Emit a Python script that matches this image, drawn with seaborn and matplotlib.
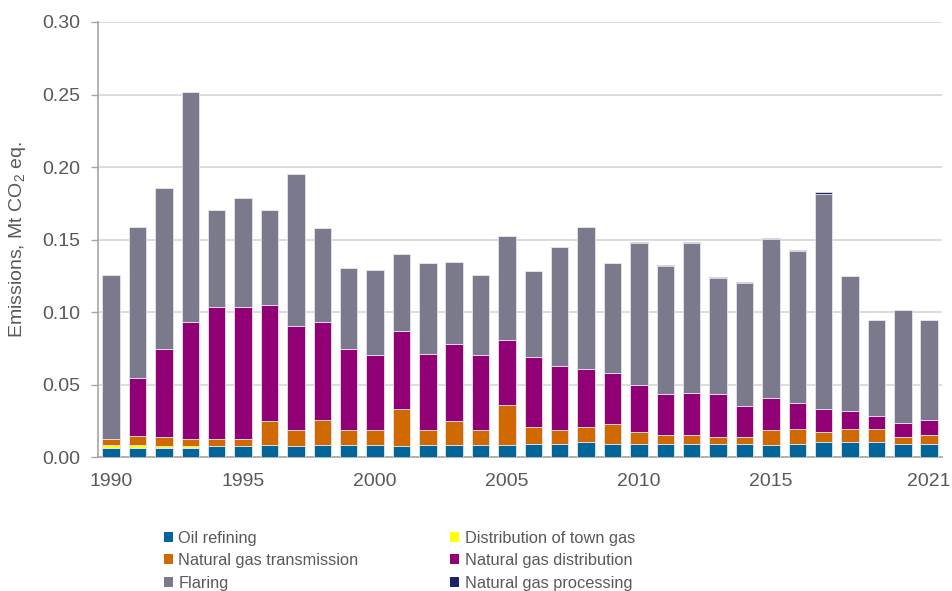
import numpy as np
import pandas as pd
import matplotlib
matplotlib.use('Agg')
import matplotlib.pyplot as plt
import seaborn as sns
from matplotlib.patches import Patch
from matplotlib.ticker import FixedLocator, MultipleLocator

# Data (Mt CO2 eq.)
years = list(range(1990, 2022))

oil_refining = [0.0066, 0.0066, 0.0066, 0.0066, 0.0078, 0.0078, 0.0083, 0.0078, 0.0083, 0.0083,
                0.0083, 0.0076, 0.0083, 0.0083, 0.0083, 0.0083, 0.0096, 0.0096, 0.0105, 0.0096,
                0.0096, 0.0096, 0.0096, 0.0096, 0.0096, 0.0085, 0.0096, 0.0105, 0.0105, 0.0105,
                0.0096, 0.0096]
town_gas = [0.0018, 0.0018, 0.0016, 0.0010] + [0.0] * 28
transmission = [0.0046, 0.0067, 0.0058, 0.0052, 0.0050, 0.0050, 0.0167, 0.0108, 0.0176, 0.0103,
                0.0103, 0.0256, 0.0103, 0.0167, 0.0103, 0.0277, 0.0117, 0.0090, 0.0108, 0.0135,
                0.0080, 0.0062, 0.0062, 0.0044, 0.0044, 0.0101, 0.0099, 0.0071, 0.0090, 0.0090,
                0.0044, 0.0062]
distribution = [0.0, 0.0395, 0.0610, 0.0804, 0.0908, 0.0908, 0.0802, 0.0721, 0.0673, 0.0564,
                0.0519, 0.0536, 0.0526, 0.0529, 0.0519, 0.0446, 0.0482, 0.0445, 0.0399, 0.0354,
                0.0324, 0.0280, 0.0289, 0.0298, 0.0215, 0.0224, 0.0179, 0.0161, 0.0128, 0.0091,
                0.0101, 0.0101]
flaring = [0.1124, 0.1042, 0.1107, 0.1587, 0.0671, 0.0754, 0.0655, 0.1048, 0.0646, 0.0552,
           0.0586, 0.0535, 0.0628, 0.0568, 0.0549, 0.0718, 0.0590, 0.0819, 0.0976, 0.0755,
           0.0977, 0.0881, 0.1030, 0.0798, 0.0844, 0.1093, 0.1046, 0.1480, 0.0924, 0.0664,
           0.0774, 0.0691]
processing = [0.0] * 20 + [0.0009] * 8 + [0.0] * 4

# stacking order, bottom to top
sources = ['Oil refining', 'Distribution of town gas', 'Natural gas transmission',
           'Natural gas distribution', 'Flaring', 'Natural gas processing']
series = [oil_refining, town_gas, transmission, distribution, flaring, processing]
colors = ['#006699', '#ffff00', '#d06a00', '#910075', '#7b7a8c', '#1c2366']

df = pd.concat([pd.DataFrame({'year': years, 'value': v, 'source': s})
                for s, v in zip(sources, series)], ignore_index=True)

sns.set_style('white')
plt.rcParams['font.family'] = ['Liberation Sans', 'DejaVu Sans']
plt.rcParams['mathtext.default'] = 'regular'
txt = '#595959'
axis_col = '#a6a6a6'

fig = plt.figure(figsize=(9.52, 5.91), dpi=100)
ax = fig.add_axes([0.1029, 0.2259, 0.887, 0.7369])

# seaborn stacks the last hue level at the bottom, so reverse the order
sns.histplot(data=df, x='year', weights='value', hue='source',
             hue_order=sources[::-1], palette=dict(zip(sources, colors)),
             multiple='stack', discrete=True, shrink=0.66, alpha=1,
             edgecolor='#e4e4ec', linewidth=0.6, legend=False, ax=ax, zorder=3)

ax.set_xlim(1989.5, 2021.5)
ax.set_ylim(0, 0.30)
ax.yaxis.set_major_locator(MultipleLocator(0.05))
ax.yaxis.set_major_formatter(plt.FormatStrFormatter('%.2f'))
ax.grid(axis='y', color='#d9d9d9', linewidth=1.3, zorder=0)
ax.set_axisbelow(True)

ax.xaxis.set_major_locator(FixedLocator([1990, 1995, 2000, 2005, 2010, 2015, 2021]))
ax.xaxis.set_minor_locator(FixedLocator(np.arange(1989.5, 2022, 1)))
ax.tick_params(axis='x', which='major', length=0, pad=11, labelsize=14, labelcolor=txt)
ax.tick_params(axis='x', which='minor', length=5, width=1, color=axis_col, direction='out')
ax.tick_params(axis='y', length=5, width=1, color=axis_col, pad=8, labelsize=14,
               labelcolor=txt, left=True)

for side in ['top', 'right']:
    ax.spines[side].set_visible(False)
for side in ['left', 'bottom']:
    ax.spines[side].set_color(axis_col)
    ax.spines[side].set_linewidth(1.2)

ax.set_xlabel('')
ax.set_ylabel('Emissions, Mt CO$_2$ eq.', fontsize=14, color=txt)
ax.yaxis.set_label_coords(-0.083, 0.5)

# legend below the chart, two columns
handles = [Patch(facecolor=c, edgecolor='none') for c in colors]
order = [0, 2, 4, 1, 3, 5]
fig.legend([handles[i] for i in order], [sources[i] for i in order],
           loc='upper left', bbox_to_anchor=(0.165, 0.113),
           bbox_transform=fig.transFigure, ncol=2, frameon=False,
           fontsize=11.8, labelcolor=txt, handlelength=0.55, handleheight=0.55,
           handletextpad=0.35, columnspacing=5.6, labelspacing=0.45,
           borderaxespad=0)

fig.savefig('out.png', dpi=100)
